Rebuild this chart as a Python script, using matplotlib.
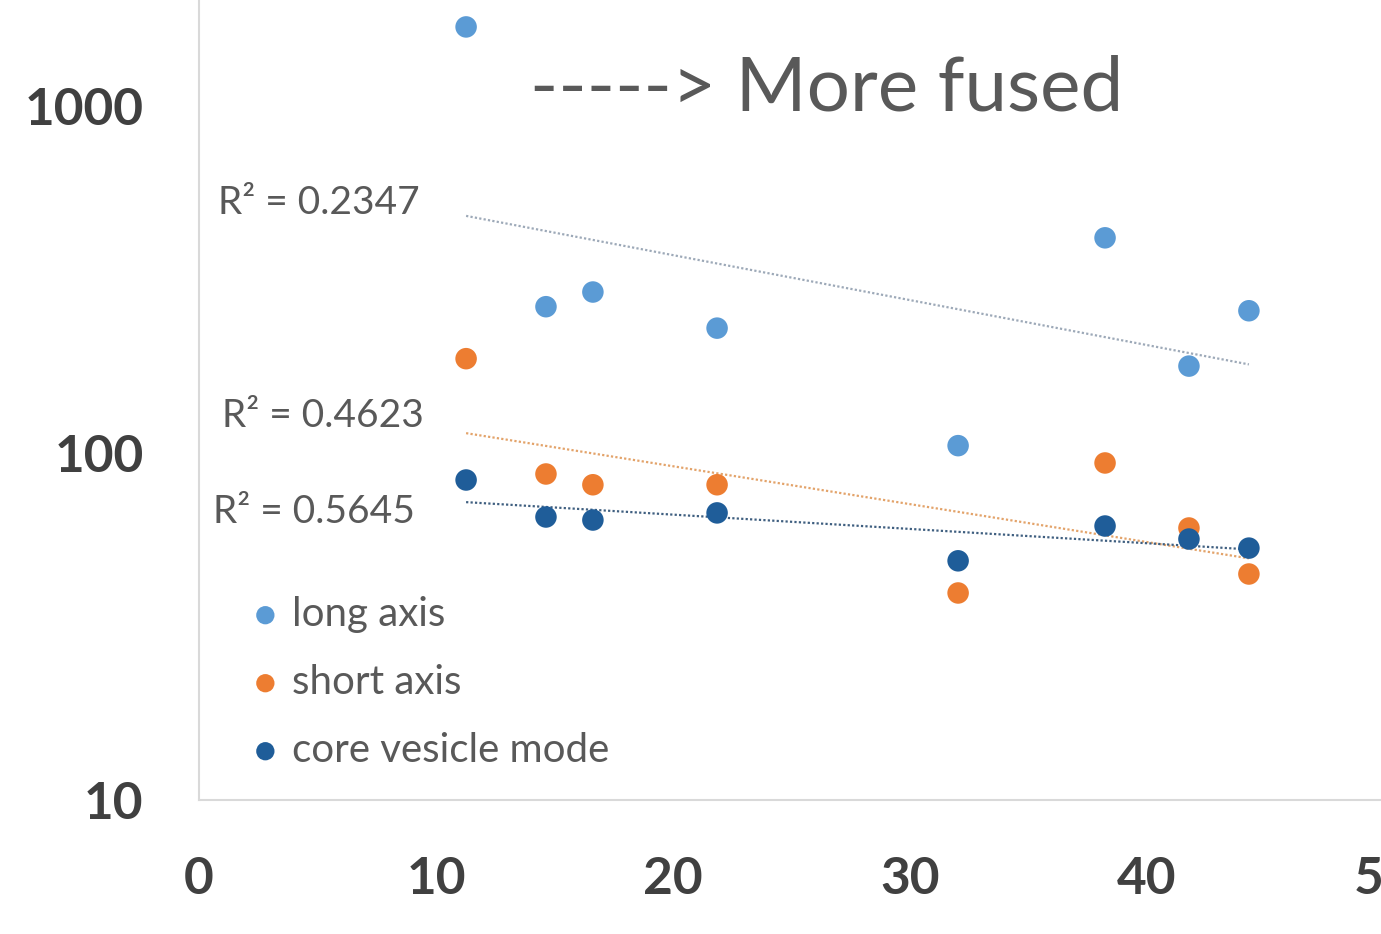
import numpy as np
import matplotlib
matplotlib.use("Agg")
import matplotlib.pyplot as plt

# ---- data ----
x_vals = [11.27, 14.64, 16.62, 21.86, 32.03, 38.23, 41.77, 44.30]
long_axis = [1690, 264, 291, 229, 105, 417, 178, 257]
short_axis = [187, 87, 81, 81, 39.5, 93.6, 60.8, 44.8]
core_vesicle_mode = [83.6, 65.4, 64.1, 67.2, 48.9, 61.6, 56.5, 53.2]
series_names = ["long axis", "short axis", "core vesicle mode"]
r2_labels = ["R² = 0.2347", "R² = 0.4623", "R² = 0.5645"]
r2_label_pos = [(0.8, 525), (0.97, 128), (0.59, 67.6)]
x_ticks = [0, 10, 20, 30, 40, 50]
y_ticks = [10, 100, 1000]
annotation = "-----> More fused"

colors = ["#5B9BD5", "#ED7D31", "#1F5D99"]
trend_colors = ["#9DA9B8", "#E3A36A", "#3F5F80"]

plt.rcParams['font.family'] = ['Lato', 'DejaVu Sans']

fig = plt.figure(figsize=(13.81, 9.34), dpi=100)
ax = fig.add_axes([199 / 1381, (934 - 800) / 934, 1185 / 1381, 800 / 934])
ax.set_yscale('log')
ax.set_xlim(0, 50)
ax.set_ylim(10, 10 ** (3 + 106 / 347))

xs = np.array(x_vals)
for vals, name, c, tc in zip([long_axis, short_axis, core_vesicle_mode],
                             series_names, colors, trend_colors):
    ys = np.array(vals)
    # exponential trendline (fit of ln y on x), as Excel does
    b, a = np.polyfit(xs, np.log(ys), 1)
    xt = np.linspace(xs.min(), xs.max(), 100)
    ax.plot(xt, np.exp(a + b * xt), linestyle=(0, (1, 1)), color=tc, lw=1.6, zorder=2)
    ax.scatter(xs, ys, s=240, color=c, label=name, zorder=3, edgecolors='none')

for txt, (tx, ty) in zip(r2_labels, r2_label_pos):
    ax.text(tx, ty, txt, fontsize=28, color='#595959', ha='left', va='center')

ax.text(13.97, 1120, annotation, fontsize=55, color='#595959', ha='left', va='center')

ax.set_xticks(x_ticks)
ax.set_xticklabels([str(t) for t in x_ticks])
ax.set_yticks(y_ticks)
ax.set_yticklabels([str(t) for t in y_ticks])
ax.minorticks_off()
ax.yaxis.set_minor_locator(matplotlib.ticker.NullLocator())
ax.tick_params(axis='both', length=0, labelsize=37, labelcolor='#404040')
ax.tick_params(axis='x', pad=40)
ax.tick_params(axis='y', pad=40)
for lbl in ax.get_xticklabels() + ax.get_yticklabels():
    lbl.set_fontweight('bold')

for side in ['top', 'right']:
    ax.spines[side].set_visible(False)
for side in ['left', 'bottom']:
    ax.spines[side].set_color('#D9D9D9')
    ax.spines[side].set_linewidth(1.5)

leg = ax.legend(loc='lower left', bbox_to_anchor=(0.039, 0.039), frameon=False,
                fontsize=29, handletextpad=0.15, handlelength=1.0, labelspacing=0.77,
                markerscale=0.85, borderaxespad=0, borderpad=0)
for t in leg.get_texts():
    t.set_color('#595959')

fig.savefig('out.png', dpi=100)
